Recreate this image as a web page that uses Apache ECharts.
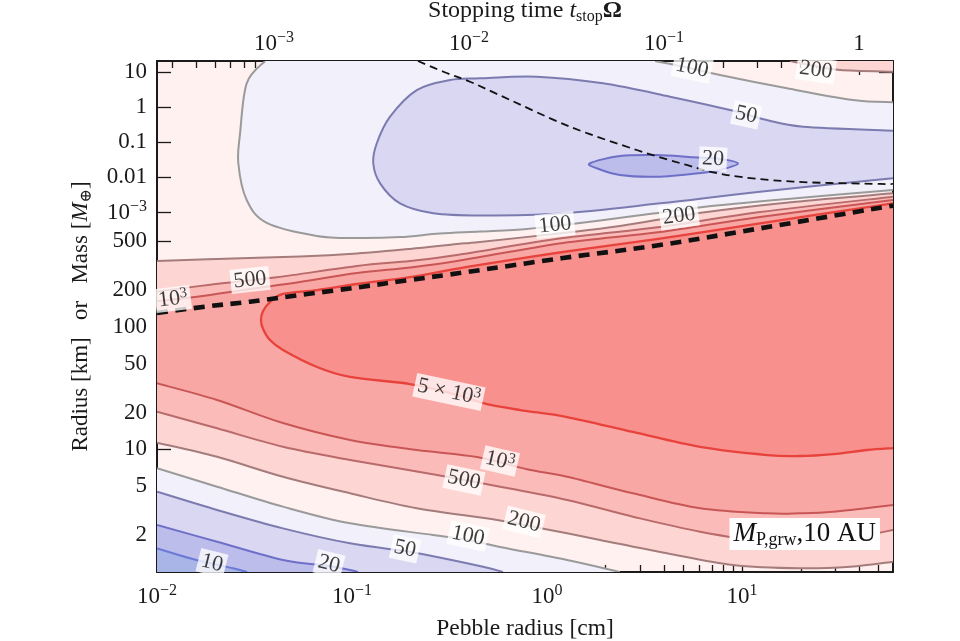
<!DOCTYPE html>
<html><head><meta charset="utf-8">
<script src="https://cdn.jsdelivr.net/npm/echarts@6/dist/echarts.min.js"></script>
<style>html,body{margin:0;padding:0;background:#fff}#chart{width:960px;height:641px}</style>
</head><body><div id="chart"></div>
<script>
// ---------------- data (all coordinates: [log10(pebble radius / cm), log10(planetesimal radius / km)]) -------------
const logPebbleRange = [-2, 1.774];
const logRadiusRange = [0, 4.168];

const pebbleTicks = [0.01, 0.1, 1, 10];
const pebbleTickLabels = ['10^{−2}', '10^{−1}', '10^{0}', '10^{1}'];
const stopTimeTicks = [1e-3, 1e-2, 1e-1, 1];
const stopTimeTickLabels = ['10^{−3}', '10^{−2}', '10^{−1}', '1'];
const stopTimeToLogPebble = 1.6;
const radiusTicks = [2, 5, 10, 20, 50, 100, 200, 500];
const radiusTickLabels = ['2', '5', '10', '20', '50', '100', '200', '500'];
const massTicks = [1e-3, 0.01, 0.1, 1, 10];
const massTickLabels = ['10^{−3}', '0.01', '0.1', '1', '10'];
const massTickLogRadius = [2.931, 3.219, 3.505, 3.790, 4.076];

const contourLevels = [10, 20, 50, 100, 200, 500, 1000, 5000];

// lower regime (below the thick dashed line)
const c10_low = [[-2,0.193],[-1.831,0.112],[-1.718,0.069],[-1.610,0.030],[-1.538,0]];
const c20_low = [[-2,0.383],[-1.692,0.247],[-1.354,0.098],[-1.118,0.049],[-1.010,0.016],[-0.969,0]];
const c50_low = [[-2,0.655],[-1.692,0.506],[-1.354,0.356],[-1.010,0.234],[-0.728,0.171],[-0.615,0.139],[-0.328,0.043],[-0.226,0]];
const c100_low = [[-2,0.846],[-1.692,0.696],[-1.354,0.533],[-1.010,0.397],[-0.585,0.302],[-0.405,0.261],[-0.241,0.204],[0.103,0.098],[0.374,0]];
const c200_low = [[-2,1.055],[-1.692,0.940],[-1.354,0.777],[-1.010,0.642],[-0.667,0.520],[-0.256,0.424],[0.015,0.343],[0.272,0.261],[0.615,0.153],[0.954,0.057],[1.297,0.030],[1.554,0.043],[1.774,0.084]];
const c500_low = [[-2,1.307],[-1.692,1.172],[-1.354,1.022],[-1.010,0.914],[-0.564,0.791],[-0.241,0.696],[0.103,0.587],[0.441,0.451],[0.785,0.329],[1.128,0.247],[1.385,0.247],[1.641,0.302],[1.774,0.343]];
const c1000_low = [[-2,1.539],[-1.692,1.403],[-1.354,1.215],[-1.010,1.077],[-0.667,0.995],[-0.359,0.938],[-0.103,0.838],[0.103,0.777],[0.441,0.642],[0.785,0.520],[1.128,0.479],[1.297,0.479],[1.467,0.492],[1.774,0.546]];
const c5000 = [[1.774,3.007],[1.092,2.844],[0.579,2.720],[0.082,2.610],[-0.410,2.488],[-0.703,2.406],[-0.974,2.349],[-1.179,2.300],[-1.354,2.268],[-1.421,2.202],[-1.456,2.129],[-1.467,2.055],[-1.456,1.982],[-1.421,1.892],[-1.354,1.811],[-1.179,1.672],[-1.010,1.591],[-0.703,1.533],[-0.497,1.460],[-0.328,1.378],[-0.138,1.321],[0.103,1.264],[0.441,1.142],[0.785,1.020],[1.128,0.954],[1.297,0.946],[1.467,0.962],[1.641,0.995],[1.774,1.011]];

// upper regime (above the thick dashed line)
const c1000_up = [[-2,2.210],[-1.795,2.246],[-1.523,2.308],[-1.267,2.365],[-0.974,2.439],[-0.703,2.484],[-0.462,2.537],[0.082,2.684],[0.579,2.773],[1.092,2.896],[1.774,3.034]];
const c500_up = [[-2,2.288],[-1.677,2.353],[-1.385,2.404],[-0.974,2.496],[-0.703,2.537],[-0.462,2.586],[0.082,2.724],[0.579,2.814],[1.092,2.936],[1.774,3.061]];
const c200_up = [[-2,2.537],[-1.692,2.553],[-1.267,2.573],[-0.974,2.598],[-0.703,2.635],[-0.462,2.675],[-0.344,2.692],[0.082,2.765],[0.374,2.822],[0.800,2.932],[1.262,3.018],[1.774,3.089]];
const c100_up = [[-1.446,4.168],[-1.540,3.986],[-1.574,3.578],[-1.583,3.334],[-1.540,3.034],[-1.437,2.847],[-1.181,2.741],[-0.974,2.724],[-0.754,2.732],[-0.549,2.761],[-0.344,2.777],[-0.103,2.798],[0.082,2.830],[0.272,2.867],[0.544,2.924],[0.800,2.977],[1.262,3.046],[1.774,3.116]];
const c100_top = [[0.554,4.168],[0.733,4.111],[0.887,4.054],[1.231,3.945],[1.569,3.850],[1.774,3.831]];
const c200_top = [[1.246,4.168],[1.374,4.127],[1.503,4.095],[1.774,4.081]];
const c50_up = [[1.774,3.600],[1.313,3.632],[1.127,3.687],[0.938,3.768],[0.631,3.877],[0.287,3.986],[-0.053,4.040],[-0.344,4.027],[-0.497,4.013],[-0.668,3.931],[-0.805,3.714],[-0.873,3.497],[-0.891,3.334],[-0.856,3.170],[-0.754,3.007],[-0.583,2.926],[-0.344,2.908],[0.067,2.924],[0.579,3.007],[1.092,3.102],[1.774,3.211]];
const c20_up = [[0.221,3.334],[0.374,3.393],[0.563,3.401],[0.749,3.383],[0.887,3.369],[0.979,3.332],[0.887,3.279],[0.800,3.257],[0.563,3.224],[0.374,3.238],[0.255,3.293]];

const regimeBoundary = [[-2,2.113],[-1.744,2.166],[-1.523,2.205],[-1.267,2.259],[-0.974,2.321],[-0.703,2.382],[-0.410,2.447],[0.082,2.561],[0.579,2.667],[1.092,2.803],[1.774,2.989]];
const thinDashed = [[-0.662,4.168],[-0.528,4.078],[-0.395,3.999],[-0.226,3.877],[0.118,3.632],[0.460,3.442],[0.716,3.320],[0.922,3.238],[1.262,3.184],[1.708,3.165],[1.774,3.165]];

const contourLabelText = ['100','200','50','20','100','200','500','10^{3}','5 × 10^{3}','10^{3}','500','200','100','50','20','10'];
const contourLabelPos = [[0.744,4.111],[1.379,4.095],[1.021,3.728],[0.851,3.369],[0.041,2.830],[0.677,2.904],[-1.523,2.382],[-1.918,2.227],[-0.503,1.468],[-0.241,0.905],[-0.426,0.750],[-0.118,0.408],[-0.405,0.294],[-0.728,0.188],[-1.118,0.065],[-1.718,0.073]];

// ---------------- styling ----------------
const labelAngles = [-12,-8,-12,-3,6,8,6,7,-12,-13,-12,-14,-12,-12,-14,-14];
const FONT = '"Liberation Serif", "DejaVu Serif", serif';
const INK = '#1a1a1a';
const bandColor = {
  lt10: '#A9B5E6', b10: '#BDBDEB', b20: '#D9D7F2', b50: '#F2F1FB', b100: '#FFF1F0',
  b200: '#FDD6D4', b500: '#FBBCB9', b1000: '#F9A7A4', gt5000: '#F8918D'
};
const lineColor = {10:'#6A7AD6', 20:'#6E70C8', 50:'#7C7BB0', 100:'#9A9A9A', 200:'#A57C7C', 500:'#B96A6A', 1000:'#C95656', 5000:'#E8423C'};

const X0 = logPebbleRange[0], X1 = logPebbleRange[1], Y0 = logRadiusRange[0], Y1 = logRadiusRange[1];

function richText(s, base, sup) {
  const m = s.match(/^(.*)\^\{(.*)\}$/);
  if (!m) return '{' + base + '|' + s + '}';
  return '{' + base + '|' + m[1] + '}{' + sup + '|' + m[2] + '}';
}

function curvePath(P, closed, move) {
  const f = v => v.toFixed(2);
  let s = (move ? 'M' : 'L') + f(P[0][0]) + ' ' + f(P[0][1]);
  const n = P.length;
  const get = i => closed ? P[(i + n) % n] : P[Math.max(0, Math.min(n - 1, i))];
  const segs = closed ? n : n - 1;
  for (let i = 0; i < segs; i++) {
    const p0 = get(i - 1), p1 = get(i), p2 = get(i + 1), p3 = get(i + 2);
    const c1 = [p1[0] + (p2[0] - p0[0]) / 6, p1[1] + (p2[1] - p0[1]) / 6];
    const c2 = [p2[0] - (p3[0] - p1[0]) / 6, p2[1] - (p3[1] - p1[1]) / 6];
    s += ' C' + f(c1[0]) + ' ' + f(c1[1]) + ' ' + f(c2[0]) + ' ' + f(c2[1]) + ' ' + f(p2[0]) + ' ' + f(p2[1]);
  }
  if (closed) s += ' Z';
  return s;
}

function clipOf(params) {
  const cs = params.coordSys;
  return {type: 'rect', shape: {x: cs.x, y: cs.y, width: cs.width, height: cs.height}};
}

function area(pieces, color, z, closedSingle) {
  return {
    type: 'custom', coordinateSystem: 'cartesian2d', xAxisIndex: 0, yAxisIndex: 0,
    silent: true, z: z, animation: false, data: pieces[0],
    renderItem: function (params, api) {
      if (params.dataIndex !== 0) return null;
      let d;
      if (closedSingle) d = curvePath(pieces[0].map(p => api.coord(p)), true, true);
      else d = pieces.map((pc, i) => curvePath(pc.map(p => api.coord(p)), false, i === 0)).join(' ') + ' Z';
      return {type: 'path', shape: {pathData: d}, style: {fill: color, stroke: 'none'}, clipPath: clipOf(params)};
    }
  };
}

function stroke(pts, color, width, dash, closed, z) {
  return {
    type: 'custom', coordinateSystem: 'cartesian2d', xAxisIndex: 0, yAxisIndex: 0,
    silent: true, z: z, animation: false, data: pts,
    renderItem: function (params, api) {
      if (params.dataIndex !== 0) return null;
      const d = curvePath(pts.map(p => api.coord(p)), closed, true);
      return {type: 'path', shape: {pathData: d},
        style: {fill: 'none', stroke: color, lineWidth: width, lineDash: dash || null, lineCap: 'butt'},
        clipPath: clipOf(params)};
    }
  };
}

const rev = a => a.slice().reverse();
const TL = [[X0, Y1]], TR = [[X1, Y1]], BL = [[X0, Y0]], BR = [[X1, Y0]];

const series = [
  area([c100_up, rev(c100_top)], bandColor.b50, 1),
  area([c100_low, BL], bandColor.b50, 1),
  area([c50_up], bandColor.b20, 2),
  area([c50_low, BL], bandColor.b20, 2),
  area([c20_up], bandColor.b10, 3, true),
  area([c20_low, BL], bandColor.b10, 3),
  area([c10_low, BL], bandColor.lt10, 4),
  area([c200_top, TR], bandColor.b200, 1),
  area([c200_up, rev(c200_low)], bandColor.b200, 1),
  area([c500_up, rev(c500_low)], bandColor.b500, 2),
  area([c1000_up, rev(c1000_low)], bandColor.b1000, 3),
  area([c5000], bandColor.gt5000, 4),
  stroke(c10_low, lineColor[10], 2, null, false, 10),
  stroke(c20_low, lineColor[20], 2, null, false, 10),
  stroke(c20_up, lineColor[20], 2, null, true, 10),
  stroke(c50_low, lineColor[50], 2, null, false, 10),
  stroke(c50_up, lineColor[50], 2, null, false, 10),
  stroke(c100_low, lineColor[100], 2, null, false, 10),
  stroke(c100_up, lineColor[100], 2, null, false, 10),
  stroke(c100_top, lineColor[100], 2, null, false, 10),
  stroke(c200_low, lineColor[200], 2, null, false, 10),
  stroke(c200_up, lineColor[200], 2, null, false, 10),
  stroke(c200_top, lineColor[200], 2, null, false, 10),
  stroke(c500_low, lineColor[500], 2, null, false, 10),
  stroke(c500_up, lineColor[500], 2, null, false, 10),
  stroke(c1000_low, lineColor[1000], 2, null, false, 10),
  stroke(c1000_up, lineColor[1000], 2, null, false, 10),
  stroke(c5000, lineColor[5000], 2.3, null, false, 10),
  stroke(thinDashed, '#111', 1.8, [8, 5], false, 12),
  stroke(regimeBoundary, '#111', 4.6, [11, 7.5], false, 12),
  {
    type: 'scatter', xAxisIndex: 0, yAxisIndex: 0, symbolSize: 0, silent: true, z: 20, animation: false,
    data: contourLabelPos.map((p, i) => ({
      value: p,
      label: {rotate: labelAngles[i], formatter: richText(contourLabelText[i], 't', 'u')}
    })),
    label: {
      show: true, position: 'inside', backgroundColor: 'rgba(255,255,255,0.96)', padding: [0, 3, 0, 3],
      rich: {
        t: {fontFamily: FONT, fontSize: 22, lineHeight: 24, color: '#0d0d0d'},
        u: {fontFamily: FONT, fontSize: 15, lineHeight: 15, verticalAlign: 'top', color: '#0d0d0d'}
      }
    }
  }
];

// ---------------- axes ----------------
const axisRich = {
  b: {fontFamily: FONT, fontSize: 23, lineHeight: 27, color: INK},
  s: {fontFamily: FONT, fontSize: 16, lineHeight: 16, verticalAlign: 'top', color: INK}
};
function minorLogs(lo, hi, shift) {
  const out = [];
  for (let n = Math.floor(lo - shift) - 1; n <= Math.ceil(hi - shift) + 1; n++) {
    for (let k = 2; k <= 9; k++) {
      const v = Math.log10(k) + n + shift;
      if (v > lo + 1e-6 && v < hi - 1e-6) out.push(v);
    }
  }
  return out;
}
function labelMap(values, labels) {
  const m = new Map();
  values.forEach((v, i) => m.set(v.toFixed(3), richText(labels[i], 'b', 's')));
  return v => m.get(v.toFixed(3)) || '';
}

const xMajor = pebbleTicks.map(Math.log10);
const xTopMajor = stopTimeTicks.map(t => Math.log10(t) + stopTimeToLogPebble);
const yMajor = radiusTicks.map(Math.log10).concat(massTickLogRadius);
const yLabelFn = labelMap(yMajor, radiusTickLabels.concat(massTickLabels));

const lineSt = {color: INK, width: 2};
const tickSt = {color: INK, width: 1.3};

function xAxisDef(position, major, labelFn, margin, extra) {
  return Object.assign({
    type: 'value', gridIndex: 0, position: position, min: X0, max: X1,
    axisLine: {show: true, onZero: false, lineStyle: lineSt},
    axisTick: {show: true, inside: true, length: 14, customValues: major, lineStyle: tickSt},
    axisLabel: {show: true, customValues: major, formatter: labelFn, rich: axisRich, margin: margin},
    splitLine: {show: false}
  }, extra || {});
}
function minorAxis(position, values) {
  return {
    type: 'value', gridIndex: 0, position: position, min: X0, max: X1,
    axisLine: {show: false, onZero: false},
    axisTick: {show: true, inside: true, length: 7, customValues: values, lineStyle: tickSt},
    axisLabel: {show: false}, splitLine: {show: false}
  };
}

const option = {
  backgroundColor: '#ffffff',
  animation: false,
  grid: {left: 157, top: 61, width: 736, height: 511, show: true, backgroundColor: bandColor.b100,
         borderWidth: 0, containLabel: false, outerBoundsMode: 'none'},
  xAxis: [
    xAxisDef('bottom', xMajor, labelMap(xMajor, pebbleTickLabels), 11, {
      name: 'Pebble radius [cm]', nameLocation: 'middle', nameGap: 45,
      nameTextStyle: {fontFamily: FONT, fontSize: 23.5, color: INK}
    }),
    minorAxis('bottom', minorLogs(X0, X1, 0)),
    xAxisDef('top', xTopMajor, labelMap(xTopMajor, stopTimeTickLabels), 4, {
      name: '{n|Stopping time }{i|t}{d|stop}{o|Ω}', nameLocation: 'middle', nameGap: 32,
      nameTextStyle: {
        rich: {
          n: {fontFamily: FONT, fontSize: 24, lineHeight: 28, color: INK},
          i: {fontFamily: FONT, fontSize: 24, lineHeight: 28, fontStyle: 'italic', color: INK},
          d: {fontFamily: FONT, fontSize: 16, lineHeight: 16, verticalAlign: 'bottom', color: INK},
          o: {fontFamily: FONT, fontSize: 24, lineHeight: 28, fontWeight: 'bold', color: INK}
        }
      }
    }),
    minorAxis('top', minorLogs(X0, X1, stopTimeToLogPebble))
  ],
  yAxis: [
    {
      type: 'value', gridIndex: 0, position: 'left', min: Y0, max: Y1,
      axisLine: {show: true, onZero: false, lineStyle: lineSt},
      axisTick: {show: true, inside: true, length: 14, customValues: yMajor, lineStyle: tickSt},
      axisLabel: {show: true, customValues: yMajor, formatter: yLabelFn, rich: axisRich, margin: 10},
      splitLine: {show: false},
      name: '{n|Radius [km]   or   Mass [}{i|M}{d|⊕}{n|]}', nameLocation: 'middle', nameGap: 62, nameRotate: 90,
      nameTextStyle: {
        rich: {
          n: {fontFamily: FONT, fontSize: 23, lineHeight: 28, color: INK},
          i: {fontFamily: FONT, fontSize: 23, lineHeight: 28, fontStyle: 'italic', color: INK},
          d: {fontFamily: FONT, fontSize: 16, lineHeight: 16, verticalAlign: 'bottom', color: INK}
        }
      }
    },
    {
      type: 'value', gridIndex: 0, position: 'right', min: Y0, max: Y1,
      axisLine: {show: true, onZero: false, lineStyle: lineSt},
      axisTick: {show: true, inside: true, length: 14, customValues: yMajor, lineStyle: tickSt},
      axisLabel: {show: false}, splitLine: {show: false}
    }
  ],
  graphic: [{
    type: 'text', right: 80, top: 518, z: 100,
    style: {
      text: '{m|M}{s|P,grw}{n|,10 AU}',
      backgroundColor: '#ffffff', padding: [1, 4, 1, 4],
      rich: {
        m: {fontFamily: FONT, fontSize: 27, lineHeight: 30, fontStyle: 'italic', fill: '#111', color: '#111'},
        s: {fontFamily: FONT, fontSize: 18, lineHeight: 18, verticalAlign: 'bottom', fill: '#111', color: '#111'},
        n: {fontFamily: FONT, fontSize: 27, lineHeight: 30, fill: '#111', color: '#111'}
      }
    }
  }],
  series: series
};

const chart = echarts.init(document.getElementById('chart'), null, {renderer: 'canvas'});
chart.setOption(option);
</script>
</body></html>
